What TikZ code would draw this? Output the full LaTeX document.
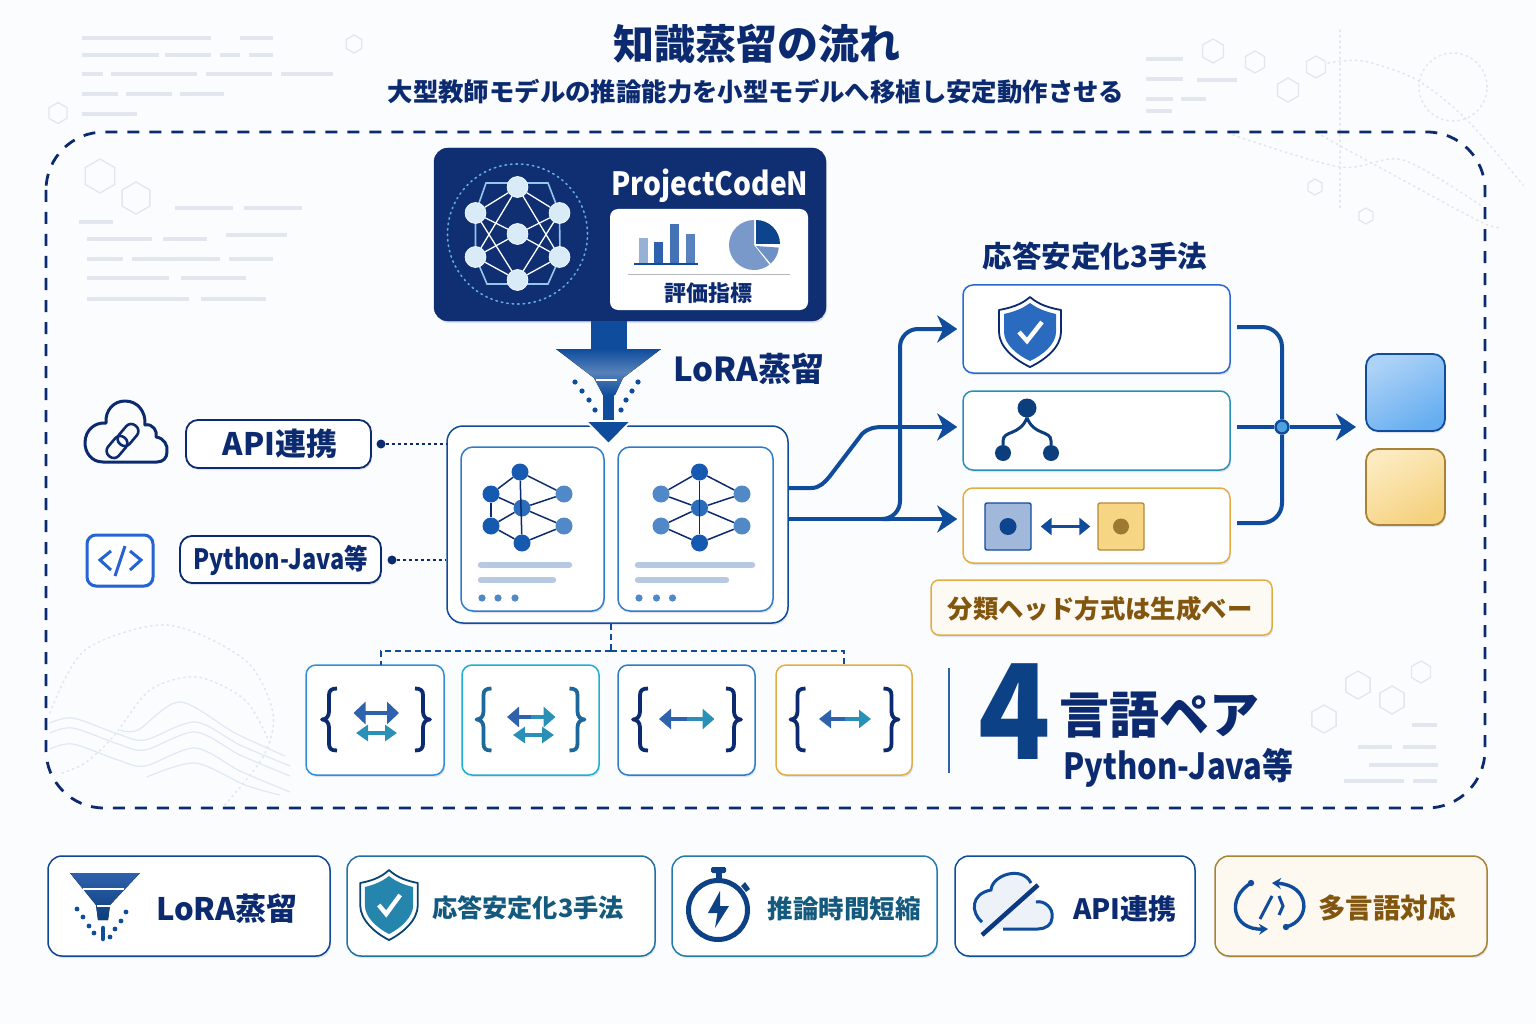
\documentclass[tikz,border=0pt]{standalone}
\usepackage{fontspec}
\usepackage{graphicx}
\setmainfont{Noto Sans CJK JP}
\newfontfamily\jpblack{Noto Sans CJK JP Black}
\usetikzlibrary{arrows.meta,shadows,shapes.geometric,calc}
\definecolor{pagebg}{HTML}{FBFCFE}
\definecolor{navy}{HTML}{0B2A6F}
\definecolor{panelnavy}{HTML}{0F2F72}
\definecolor{flowblue}{HTML}{0F4C9C}
\definecolor{midblue}{HTML}{2F7CC8}
\definecolor{skyline}{HTML}{2F8FD8}
\definecolor{tealline}{HTML}{2A90B8}
\definecolor{deepteal}{HTML}{14597E}
\definecolor{amber}{HTML}{E3AD45}
\definecolor{brown}{HTML}{83560F}
\definecolor{decogrey}{HTML}{E2E6EE}
\definecolor{wavecol}{HTML}{DFE9F4}
\definecolor{barblue}{HTML}{2F62AC}
\definecolor{nodedark}{HTML}{1559B0}
\definecolor{nodemid}{HTML}{2B6DBB}
\definecolor{nodelight}{HTML}{5088C8}
\definecolor{shieldblue}{HTML}{2A6BC0}
\definecolor{softamber}{HTML}{F6D684}
\definecolor{outbluea}{HTML}{ADD2F7}
\definecolor{outblueb}{HTML}{66AEF0}
\definecolor{outambera}{HTML}{FCEBC0}
\definecolor{outamberb}{HTML}{F5D17E}
\newcommand{\jpsize}[1]{\bfseries\fontsize{#1}{#1}\selectfont}
\newcommand{\nrw}[2]{\scalebox{#1}[1]{#2}}
\tikzset{
  softshadow/.style={drop shadow={shadow xshift=1pt,shadow yshift=-2pt,fill=navy,opacity=.12}},
  cardbox/.style={draw,rounded corners=10pt,line width=1.5pt,fill=white,inner sep=0pt,softshadow},
  pillbox/.style={draw=navy,rounded corners=12pt,line width=1.8pt,fill=white,inner sep=0pt,softshadow},
  netnode/.style={circle,fill=#1,inner sep=0pt,minimum size=17pt},
  paneldot/.style={circle,fill=#1,draw=white,line width=.6pt,inner sep=0pt,minimum size=21pt},
  flowline/.style={draw=flowblue,line width=4pt},
  flowtip/.style={-{Stealth[length=20pt,width=27pt,inset=6pt]}},
  dotline/.style={draw=navy,line width=1.6pt,dash pattern=on 3pt off 3pt},
  dashline/.style={draw=flowblue,line width=1.6pt,dash pattern=on 6pt off 4pt},
  hexdeco/.style={regular polygon,regular polygon sides=6,shape border rotate=30,draw=decogrey,line width=1.3pt,inner sep=0pt},
  curvedeco/.style={draw=decogrey,line width=1.6pt,dash pattern=on 1.5pt off 4pt,line cap=round},
  pics/curly/.style={code={
    \foreach \m in {1,-1} {
      \draw[line width=3.8pt,line join=round,xscale=\m] (-39,-31) .. controls (-45,-31) and (-47,-29) .. (-47,-24) -- (-47,-8) .. controls (-47,-3) and (-50,0) .. (-54,0) .. controls (-50,0) and (-47,3) .. (-47,8) -- (-47,24) .. controls (-47,29) and (-45,31) .. (-39,31);
    }
  }},
  pics/shieldicon/.style 2 args={code={
    \draw[fill=white,draw=#1,line width=1.8pt,line join=round] (0,-35) .. controls (-9,-27) and (-20,-24) .. (-31,-22) -- (-31,0) .. controls (-31,15) and (-15,28) .. (0,35) .. controls (15,28) and (31,15) .. (31,0) -- (31,-22) .. controls (20,-24) and (9,-27) .. (0,-35) -- cycle;
    \fill[#2] (0,-29) .. controls (-8,-23) and (-17,-20) .. (-26,-18) -- (-26,0) .. controls (-26,12) and (-13,23) .. (0,29) .. controls (13,23) and (26,12) .. (26,0) -- (26,-18) .. controls (17,-20) and (8,-23) .. (0,-29) -- cycle;
    \draw[white,line width=4.4pt] (-11,0) -- (-3,9) -- (12,-10);
  }}
}
\begin{document}
\begin{tikzpicture}[x=1pt,y=-1pt]
  \useasboundingbox (0,0) rectangle (1536,1024);
  \fill[pagebg] (0,0) rectangle (1536,1024);

  % faint background
  \foreach \xa/\xb/\yy in {82/211/38,240/273/38,82/159/55,165/211/55,220/240/55,249/273/55,82/103/74,111/197/74,206/272/74,281/333/74,82/118/94,126/172/94,180/224/94,82/137/114,175/233/208,244/302/208,79/113/222,87/152/239,163/207/239,226/287/235,87/123/259,132/220/259,229/273/259,87/169/278,181/246/278,87/189/299,201/266/299,1146/1183/59,1146/1183/79,1197/1237/80,1146/1173/99,1181/1206/99,1146/1172/111,1412/1437/725,1358/1392/747,1403/1436/747,1369/1438/765,1344/1404/781,1413/1437/781}
    \draw[decogrey,line width=3.2pt] (\xa,\yy) -- (\xb,\yy);
  \foreach \hx/\hy/\hs [count=\i] in {58/113/21,354/44/18,100/176/34,136/198/32,1213/51/24,1255/62/22,1288/90/24,1316/67/22,1315/187/16,1366/216/16,1358/685/28,1392/700/28,1421/672/22,1324/719/28}
    \node[hexdeco,minimum size=\hs pt] (hex\i) at (\hx,\hy) {};
  \draw[curvedeco] (1340,30) -- (1340,210);
  \draw[curvedeco] (1453,87) circle (34pt);
  \draw[curvedeco] plot[smooth] coordinates {(1328,63) (1363,61) (1417,80) (1467,120) (1523,185)};
  \draw[curvedeco] plot[smooth] coordinates {(1233,135) (1340,167) (1403,160) (1483,207)};
  \draw[curvedeco] plot[smooth] coordinates {(1317,133) (1397,177) (1483,223) (1502,227)};
  \draw[curvedeco] plot[smooth] coordinates {(50,713) (85,650) (167,625) (245,660) (273,713) (263,757) (223,807)};
  \draw[curvedeco] plot[smooth] coordinates {(62,773) (85,763) (113,737) (150,690) (197,677) (245,700) (270,743)};
  \foreach \wy in {0,10,26}
    \draw[wavecol,line width=1.2pt] plot[smooth] coordinates {(50,723+\wy) (73,718+\wy) (118,734+\wy) (145,740+\wy) (195,722+\wy) (240,745+\wy) (290,766+\wy)};
  \draw[wavecol,line width=1.2pt] plot[smooth] coordinates {(120,730) (138,730) (180,702) (235,733) (285,756)};
  \draw[wavecol,line width=1.2pt] plot[smooth] coordinates {(147,777) (195,763) (245,785) (280,795)};

  % frame and title
  \draw[navy,line width=2.8pt,dash pattern=on 12pt off 10pt,rounded corners=58pt] (46,132) rectangle (1485,808);
  \node[font=\jpsize{41},text=navy] (title) at (757,44) {知識蒸留の流れ};
  \node[font=\jpsize{25.4},text=navy] (subtitle) at (756,92) {大型教師モデルの推論能力を小型モデルへ移植し安定動作させる};

  % teacher panel
  \node[rounded corners=14pt,top color=panelnavy,bottom color=panelnavy,draw=navy,minimum width=392pt,minimum height=173pt,softshadow] (teacher) at (630,234.5) {};
  \draw[curvedeco,draw=skyline!75] (517.5,234) circle (70pt);
  \draw[draw=skyline!50!white,line width=1.6pt] (475.5,213) -- (486,183) -- (548,183) -- (559.5,213) -- (560,257) -- (548,284) -- (487,284) -- (475.5,257) -- cycle;
  \foreach \nn/\nx/\ny in {a/517.5/187,b/475.5/213,c/559.5/213,d/517.5/234,e/475.5/257,f/559.5/257,g/517.5/280}
    \node[paneldot=skyline!18!white] (tn\nn) at (\nx,\ny) {};
  \foreach \na/\nb in {a/b,a/c,a/e,a/f,b/d,c/d,e/d,f/d,b/g,c/g,e/g,f/g}
    \draw[white,line width=1.3pt] (tn\na) -- (tn\nb);
  \node[font=\jpsize{32},text=white] (projname) at (710,186) {\nrw{.88}{ProjectCodeN}};
  \node[fill=white,rounded corners=8pt,minimum width=198pt,minimum height=101pt] (metrics) at (709,259.5) {};
  \foreach \bx/\bt/\bc in {639/238/barblue!50,654/242/barblue,670/224/barblue!90,686/234/barblue!80}
    \fill[\bc] (\bx,\bt) rectangle (\bx+8.5,263);
  \draw[flowblue,line width=2pt] (634,264) -- (698,264);
  \begin{scope}[shift={(754,245)},y=1pt]
    \fill[barblue!65] (0,0) -- (90:25) arc (90:308:25) -- cycle;
    \fill[barblue!70] (2,-1) -- (-6:25) arc (-6:-48:25) -- cycle;
    \fill[flowblue!90!black] (2,1) -- (2,25) arc (90:0:24) -- cycle;
  \end{scope}
  \draw[decogrey!80!black,line width=1pt] (628,275) -- (790,275);
  \node[font=\jpsize{22},text=navy] (metriclabel) at (708,293) {評価指標};

  % funnel
  \fill[flowblue] (591,321) rectangle (627,349);
  \fill[top color=flowblue,bottom color=flowblue,middle color=flowblue!70!white] (556,349) -- (661,349) -- (623,378) -- (615,395) -- (603,395) -- (594,378) -- cycle;
  \draw[white,line width=1.2pt] (596,380) -- (617,380);
  \foreach \dx/\dy in {575/382,582/391,589/400,595/410,638/382,632/391,626/400,621/410}
    \fill[flowblue] (\dx,\dy) circle (2.6pt);
  \node[font=\jpsize{33},text=navy,anchor=west] (loralabel) at (670,369) {LoRA蒸留};

  % student panel
  \node[cardbox,draw=flowblue,rounded corners=16pt,minimum width=341pt,minimum height=197pt] (students) at (617.5,524.5) {};
  \node[cardbox,draw=midblue,rounded corners=12pt,minimum width=143pt,minimum height=164pt] (studa) at (532.5,529) {};
  \node[cardbox,draw=midblue,rounded corners=12pt,minimum width=155pt,minimum height=164pt] (studb) at (695.5,529) {};
  \fill[flowblue] (603,395) rectangle (614,421);
  \filldraw[fill=flowblue,draw=white,line width=1.8pt,line join=round] (586,421) -- (631,421) -- (608.5,444) -- cycle;

  \foreach \nn/\nx/\ny/\nc in {a/520/472/nodedark,b/491/494/nodedark,c/491/526/nodedark,d/522/508/nodemid,e/522/543/nodedark,f/564/494/nodelight,g/564/526/nodelight}
    \node[netnode=\nc] (la\nn) at (\nx,\ny) {};
  \foreach \na/\nb in {a/b,a/f,a/e,b/c,b/d,c/d,c/e,d/f,d/g,e/g}
    \draw[navy,line width=1.5pt] (la\na) -- (la\nb);
  \foreach \nn/\nx/\ny/\nc in {a/699.5/472/nodedark,b/661/494/nodelight,c/661/526/nodelight,d/699.5/508/nodemid,e/699.5/543/nodedark,f/742/494/nodelight,g/742/526/nodelight}
    \node[netnode=\nc] (lb\nn) at (\nx,\ny) {};
  \foreach \na/\nb in {a/b,a/f,a/e,b/d,c/d,c/e,d/f,d/g,e/g}
    \draw[navy,line width=1.5pt] (lb\na) -- (lb\nb);
  \foreach \xa/\xb/\yy in {478/572/565,478/556/580,635/755/565,635/729/580}
    \draw[barblue!35,line width=6.5pt,line cap=round] (\xa+3,\yy) -- (\xb-3,\yy);
  \foreach \dx in {482,498,515,639,656.5,672.5}
    \fill[nodelight] (\dx,598) circle (3.6pt);

  % inputs on the left
  \node[pillbox,minimum width=185pt,minimum height=48pt] (apipill) at (278.5,444) {};
  \node[font=\jpsize{31},text=navy] (apilabel) at (280,444) {API連携};
  \node[pillbox,minimum width=201pt,minimum height=47pt] (pypill) at (280.5,559.5) {};
  \node[font=\jpsize{28},text=navy] (pylabel) at (281,560) {\nrw{.84}{Python-Java等}};
  \node[circle,fill=navy,inner sep=0pt,minimum size=9pt] (apidot) at (381,444) {};
  \node[circle,fill=navy,inner sep=0pt,minimum size=9pt] (pydot) at (392,560) {};
  \draw[dotline] (apidot) -- (students.west |- apidot);
  \draw[dotline] (pydot) -- (students.west |- pydot);
  \draw[navy,line width=3pt,line join=round] (103,462) .. controls (91,462) and (85,452) .. (85,443) .. controls (85,430) and (95,422) .. (106,423) .. controls (105,410) and (114,401) .. (125,401) .. controls (138,401) and (146,412) .. (145,425) .. controls (153,423) and (158,432) .. (156,437) .. controls (164,438) and (168,445) .. (167,452) .. controls (167,458) and (163,462) .. (157,462) -- cycle;
  \node[draw=navy,line width=2.6pt,rotate=50,rounded corners=6.5pt,minimum width=24pt,minimum height=14pt,inner sep=0pt] (linka) at (128,435) {};
  \node[draw=navy,line width=2.6pt,rotate=50,rounded corners=6.5pt,minimum width=24pt,minimum height=14pt,inner sep=0pt] (linkb) at (117,447) {};
  \node[draw=midblue!80!blue,line width=3pt,rounded corners=9pt,minimum width=66pt,minimum height=51pt,fill=white,inner sep=0pt,softshadow] (codebox) at (120,560.5) {};
  \draw[midblue!80!blue,line width=3pt] (111,551) -- (100,560) -- (111,570) (125,546) -- (115,576) (130,551) -- (141,560) -- (130,570);

  % language cards
  \foreach \i/\cx/\cw/\col in {1/375/138/skyline,2/530.5/137/tealline!70!cyan,3/686.5/137/midblue,4/844/136/amber}
    \node[cardbox,draw=\col,minimum width=\cw pt,minimum height=110pt] (lang\i) at (\cx,720) {};
  \coordinate (droptop) at (students.south -| 611,0);
  \coordinate (dropmid) at (611,651);
  \coordinate (lang1top) at (381,665);
  \coordinate (lang4top) at (844,665);
  \draw[dashline] (droptop) -- (dropmid);
  \draw[dashline] (dropmid) -| (lang1top);
  \draw[dashline] (dropmid) -| (lang4top);
  \foreach \cx/\col in {376/navy,530.5/tealline!60!navy,687/navy,844.5/navy}
    \pic[color=\col] at (\cx,719.5) {curly};
  \foreach \xa/\xm/\xb/\yy/\ca/\cb/\hh in {353.5/376/399/713/barblue/barblue/22,356/376/397/733/tealline/tealline/16,507/531/555.5/717/barblue/tealline/20,513/533/554/735/tealline/tealline/16,659/687/714.5/719/barblue/tealline/20,819/845/871/719/barblue/tealline/18} {
    \draw[\ca,line width=4pt,{Triangle[length=12pt,width=\hh pt]}-] (\xa,\yy) -- (\xm,\yy);
    \draw[\cb,line width=4pt,-{Triangle[length=12pt,width=\hh pt]}] (\xm,\yy) -- (\xb,\yy);
  }

  % four language pairs
  \draw[barblue,line width=1.8pt] (949,668) -- (949,773);
  \node[font=\fontsize{132}{132}\selectfont\jpblack,text=flowblue!85!black,anchor=center] (bigfour) at (1014.5,711.5) {\nrw{.9}{4}};
  \node[font=\jpsize{50},text=navy,anchor=west] (pairlabel) at (1056,715) {言語ペア};
  \node[font=\jpsize{36},text=navy,anchor=west] (pairnote) at (1060,768) {\nrw{.86}{Python-Java等}};

  % three methods
  \node[font=\jpsize{29.5},text=navy] (methodhead) at (1095,256) {応答安定化3手法};
  \node[cardbox,draw=midblue!85!blue,minimum width=267pt,minimum height=88pt] (methoda) at (1096.5,329) {};
  \node[cardbox,draw=tealline,minimum width=267pt,minimum height=79pt] (methodb) at (1096.5,430.5) {};
  \node[cardbox,draw=amber,minimum width=267pt,minimum height=75pt] (methodc) at (1096.5,525.5) {};
  \pic at (1030,332) {shieldicon={navy}{shieldblue}};
  \node[circle,fill=flowblue!80!black,inner sep=0pt,minimum width=17pt,minimum height=19pt] (treetop) at (1027,408) {};
  \node[circle,fill=flowblue!80!black,inner sep=0pt,minimum size=16pt] (treel) at (1003,453) {};
  \node[circle,fill=flowblue!80!black,inner sep=0pt,minimum size=16pt] (treer) at (1051,453) {};
  \draw[flowblue!80!black,line width=3pt] (treel) -- (1003,441) .. controls (1003,430) and (1020,436) .. (treetop.south);
  \draw[flowblue!80!black,line width=3pt] (treer) -- (1051,441) .. controls (1051,430) and (1034,436) .. (treetop.south);
  \node[draw=flowblue,line width=1.4pt,fill=barblue!45,rounded corners=2pt,minimum width=46pt,minimum height=47pt,inner sep=0pt] (sqblue) at (1008,526.5) {};
  \node[draw=amber!80!black,line width=1.4pt,fill=softamber,rounded corners=2pt,minimum width=46pt,minimum height=47pt,inner sep=0pt] (sqamber) at (1121,526.5) {};
  \fill[flowblue!90!black] (sqblue) circle (8.5pt);
  \fill[amber!70!black] (sqamber) circle (8pt);
  \draw[flowblue,line width=3pt,{Triangle[length=11pt,width=17pt]}-{Triangle[length=11pt,width=17pt]}] ($(sqblue.east)+(9,0)$) -- ($(sqamber.west)+(-7,0)$);
  \node[cardbox,draw=amber,rounded corners=8pt,fill=amber!6,minimum width=341pt,minimum height=55pt] (notebox) at (1101.5,607.5) {};
  \node[font=\jpsize{25.4},text=brown] (notelabel) at (1100,609) {分類ヘッド方式は生成ベー};

  % connectors
  \coordinate (outa) at (students.east |- 0,488);
  \coordinate (outb) at (students.east |- 0,519);
  \coordinate (joinb) at (methodb.west |- 0,427);
  \coordinate (joinc) at (methodc.west |- 0,519);
  \draw[flowline] (outa) -- (811,488) .. controls (820,488) and (825,482) .. (830,476) -- (862,434) .. controls (868,428) and (875,427) .. (884,427) -- (900,427);
  \draw[flowline,flowtip,shorten >=5pt] (884,427) -- (joinb);
  \draw[flowline,flowtip,shorten >=5pt] (outb) -- (joinc);
  \draw[flowline,flowtip,shorten >=5pt,rounded corners=18pt] (890,519) -| (900,329) -- (methoda.west);
  \coordinate (backa) at (1237,327);
  \coordinate (backb) at (1237,427);
  \coordinate (backc) at (1237,523);
  \coordinate (endtip) at (1356,427);
  \node[circle,draw=flowblue,line width=2.4pt,fill=skyline!85,inner sep=0pt,minimum size=13pt] (junction) at (1282,427) {};
  \draw[flowline,rounded corners=20pt] (backa) -| (junction.north);
  \draw[flowline,rounded corners=20pt] (backc) -| (junction.south);
  \draw[flowline] (backb) -- (junction);
  \draw[flowline,flowtip] (junction) -- (endtip);
  \node[draw=flowblue,line width=1.8pt,rounded corners=12pt,top color=outbluea,bottom color=outblueb,shading angle=30,minimum width=79pt,minimum height=77pt,inner sep=0pt,softshadow] (outblue) at (1405.5,392.5) {};
  \node[draw=amber!75!black,line width=1.8pt,rounded corners=12pt,top color=outambera,bottom color=outamberb,shading angle=30,minimum width=79pt,minimum height=76pt,inner sep=0pt,softshadow] (outamber) at (1405.5,487) {};

  % bottom row
  \node[cardbox,draw=flowblue!85!navy,rounded corners=14pt,minimum width=282pt,minimum height=100pt] (taga) at (189,906) {};
  \node[cardbox,draw=tealline!70!navy,rounded corners=14pt,minimum width=308pt,minimum height=100pt] (tagb) at (501,906) {};
  \node[cardbox,draw=tealline!70!flowblue,rounded corners=14pt,minimum width=265pt,minimum height=100pt] (tagc) at (804.5,906) {};
  \node[cardbox,draw=flowblue,rounded corners=14pt,minimum width=240pt,minimum height=100pt] (tagd) at (1075,906) {};
  \node[cardbox,draw=amber!75!black,fill=amber!8,rounded corners=14pt,minimum width=272pt,minimum height=100pt] (tage) at (1351,906) {};
  \node[font=\jpsize{31},text=navy] (tagatext) at (227,909) {LoRA蒸留};
  \node[font=\jpsize{25.2},text=deepteal] (tagbtext) at (528,908) {応答安定化3手法};
  \node[font=\jpsize{25.5},text=deepteal] (tagctext) at (844,909) {推論時間短縮};
  \node[font=\jpsize{28},text=navy] (tagdtext) at (1125,909) {API連携};
  \node[font=\jpsize{27.5},text=brown] (tagetext) at (1387,908) {多言語対応};
  % funnel tag
  \fill[top color=barblue,bottom color=flowblue!80!black] (70,873) -- (140,873) -- (110,905) -- (108,920) -- (98,920) -- (96,905) -- cycle;
  \draw[white,line width=1.2pt] (83,889) -- (124,889) (97,906) -- (110,906);
  \draw[flowblue,line width=4.5pt,line cap=round] (103,928) -- (103,939);
  \foreach \dx/\dy in {77/909,83/917,89/926,94/933,126/912,121/921,115/929,110/937}
    \fill[flowblue] (\dx,\dy) circle (2.4pt);
  % shield tag
  \pic[xscale=.93] at (389,905) {shieldicon={navy!70!teal}{tealline!80!deepteal}};
  % watch tag
  \draw[flowblue!85!black,line width=5pt] (718,910) circle (29.5pt);
  \fill[flowblue!85!black,rounded corners=1.5pt] (711,867) rectangle (726,873);
  \fill[flowblue!85!black] (715.5,872) rectangle (721.5,880);
  \fill[flowblue!85!black] (741,886) -- (745,882) -- (750,889) -- (746,892) -- cycle;
  \fill[flowblue!85!black] (720,891) -- (708,913) -- (717.5,913) -- (715,928) -- (729,906) -- (720,906) -- cycle;
  % cloud tag
  \fill[wavecol!60] (985,929) .. controls (973,922) and (970,900) .. (991,890) .. controls (992,875) and (1022,865) .. (1031,883) -- (1036,902) .. controls (1044,900) and (1054,908) .. (1052,918) .. controls (1052,925) and (1045,929) .. (1038,929) -- cycle;
  \draw[flowblue,line width=3pt] (982,922) .. controls (971,913) and (970,894) .. (991,890) .. controls (992,875) and (1022,865) .. (1031,883);
  \draw[flowblue,line width=3pt] (1036,902) .. controls (1044,900) and (1054,908) .. (1052,918) .. controls (1052,925) and (1045,929) .. (1038,929) -- (1003,929);
  \draw[navy!60!flowblue,line width=4.5pt] (1038,885) -- (982,935);
  % cycle tag
  \draw[flowblue,line width=3.4pt,-{Stealth[length=9pt,width=11pt]}] (1251,883) .. controls (1226,898) and (1232,930) .. (1268,929);
  \draw[flowblue,line width=3.4pt,-{Stealth[length=9pt,width=11pt]}] (1286,927) .. controls (1312,920) and (1310,885) .. (1272,883);
  \fill[flowblue] (1251,883) circle (3.2pt) (1286,927) circle (3.2pt);
  \draw[flowblue,line width=3pt] (1272,896) -- (1260,919) (1279,896) -- (1283,906) -- (1279,915);
\end{tikzpicture}
\end{document}
